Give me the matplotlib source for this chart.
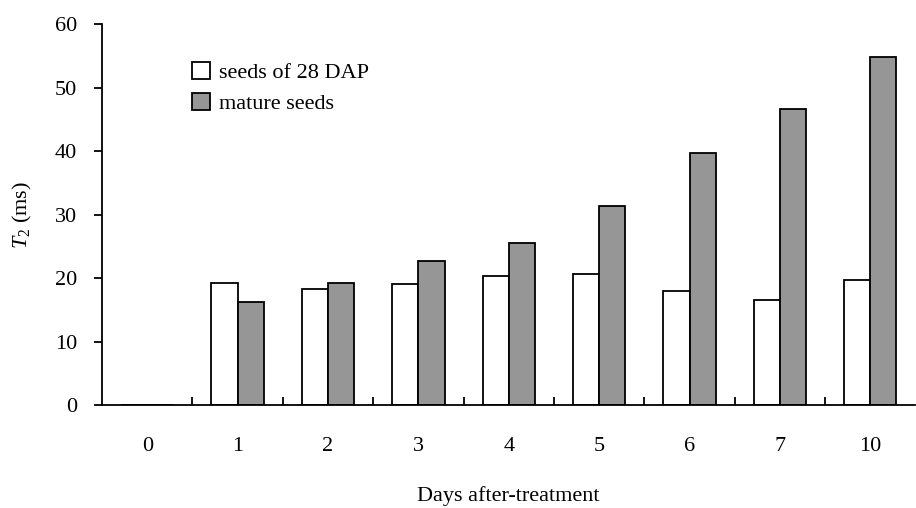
import numpy as np
import matplotlib
matplotlib.use('Agg')
import matplotlib.pyplot as plt
from matplotlib.patches import Patch

plt.rcParams['font.family'] = ['Liberation Serif', 'DejaVu Serif']
plt.rcParams['mathtext.fontset'] = 'custom'
plt.rcParams['mathtext.rm'] = 'Liberation Serif'
plt.rcParams['mathtext.it'] = 'Liberation Serif:italic'

days = ['0', '1', '2', '3', '4', '5', '6', '7', '10']
seeds_28dap = [0, 19.3, 18.3, 19.0, 20.3, 20.7, 17.9, 16.6, 19.7]
mature_seeds = [0, 16.2, 19.3, 22.7, 25.5, 31.4, 39.7, 46.6, 54.9]

fig = plt.figure(figsize=(9.16, 5.08), dpi=100)
ax = fig.add_axes([0.1114, 0.2028, 0.888, 0.749])

x = np.arange(len(days)) + 0.5
w = 0.29
ax.bar(x - w / 2, seeds_28dap, w, color='white', edgecolor='black', linewidth=1.3)
ax.bar(x + w / 2, mature_seeds, w, color='#969696', edgecolor='black', linewidth=1.3)

ax.set_xlim(0, len(days))
ax.set_ylim(0, 60)
ax.set_yticks(np.arange(0, 61, 10))
ax.set_xticks(x)
ax.set_xticklabels(days)
ax.set_xticks(np.arange(1, len(days)), minor=True)
ax.tick_params(axis='x', which='major', length=0, pad=23, labelsize=16)
ax.tick_params(axis='x', which='minor', direction='in', length=6, width=1.3)
ax.tick_params(axis='y', direction='out', length=6, width=1.3, pad=12, labelsize=16)

for s in ['top', 'right']:
    ax.spines[s].set_visible(False)
for s in ['left', 'bottom']:
    ax.spines[s].set_linewidth(1.3)

ax.set_xlabel('Days after-treatment', fontsize=16, labelpad=22)
ax.set_ylabel(r'$T_2$ (ms)', fontsize=16, labelpad=15)

handles = [Patch(facecolor='white', edgecolor='black', linewidth=1.3),
           Patch(facecolor='#969696', edgecolor='black', linewidth=1.3)]
ax.legend(handles, ['seeds of 28 DAP', 'mature seeds'], loc='upper left',
          bbox_to_anchor=(0.1, 0.925), frameon=False, fontsize=16,
          handlelength=0.8, handleheight=0.8, handletextpad=0.4,
          labelspacing=0.45, borderaxespad=0)

plt.savefig('out.png', dpi=100)
